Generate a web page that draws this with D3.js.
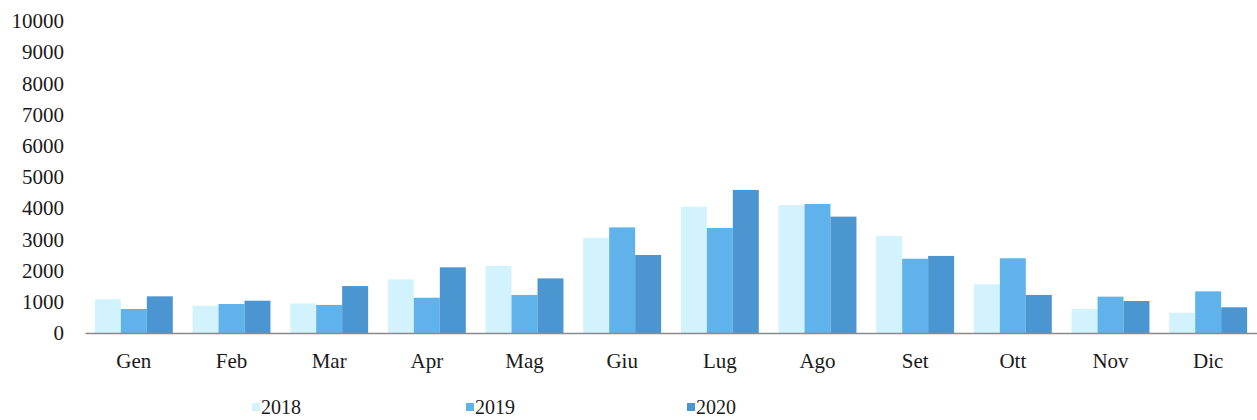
<!DOCTYPE html>
<html>
<head>
<meta charset="utf-8">
<script src="https://cdn.jsdelivr.net/npm/d3@7"></script>
<style>
  body { margin: 0; background: #fff; }
  svg { display: block; font-family: "Liberation Serif", "Times New Roman", serif; }
</style>
</head>
<body>
<div id="chart"></div>
<script>
const width = 1257;
const height = 420;

// data
const months = ["Gen", "Feb", "Mar", "Apr", "Mag", "Giu", "Lug", "Ago", "Set", "Ott", "Nov", "Dic"];
const years = ["2018", "2019", "2020"];
const values2018 = [1080, 875, 950, 1720, 2150, 3055, 4050, 4100, 3110, 1560, 770, 650];
const values2019 = [770, 930, 900, 1130, 1220, 3385, 3365, 4135, 2380, 2395, 1165, 1335];
const values2020 = [1175, 1035, 1505, 2105, 1750, 2500, 4585, 3730, 2470, 1220, 1025, 825];
const yTicks = [0, 1000, 2000, 3000, 4000, 5000, 6000, 7000, 8000, 9000, 10000];

const seriesValues = { "2018": values2018, "2019": values2019, "2020": values2020 };

const rows = months.map((m, i) => ({
    month: m,
    bars: years.map(y => ({ year: y, value: seriesValues[y][i] }))
}));

const colorScale = d3.scaleOrdinal().domain(years).range(["#d2f3fd", "#60b3ea", "#4b95d1"]);

const svg = d3.select("#chart").append("svg").attr("width", width).attr("height", height);

const xScale = d3.scaleBand()
    .domain(months)
    .range([85, 1257])
    .padding(0);

const xInner = d3.scaleBand()
    .domain(years)
    .range([0, xScale.bandwidth()])
    .paddingInner(0)
    .paddingOuter(0.38);

const yScale = d3.scaleLinear()
    .domain([0, 10000])
    .range([333, 21]);

// y labels (no axis line)
const yAxis = d3.axisLeft(yScale).tickValues(yTicks).tickSize(0).tickPadding(0).tickFormat(d => d);
svg.append("g")
    .attr("class", "y-axis")
    .attr("transform", "translate(64,0)")
    .call(yAxis)
    .call(g => g.select(".domain").remove())
    .selectAll("text")
    .attr("font-family", "Liberation Serif, serif")
    .attr("font-size", 21)
    .attr("fill", "#1a1a1a");

// bars
const groups = svg.selectAll("g.month")
    .data(rows)
    .join("g")
    .attr("class", "month")
    .attr("transform", d => `translate(${xScale(d.month)},0)`);

groups.selectAll("rect")
    .data(d => d.bars)
    .join("rect")
    .attr("x", d => xInner(d.year))
    .attr("width", xInner.bandwidth())
    .attr("y", d => yScale(d.value))
    .attr("height", d => yScale(0) - yScale(d.value))
    .attr("fill", d => colorScale(d.year));

// x axis
const xAxis = d3.axisBottom(xScale).tickSize(0).tickPadding(20);
svg.append("g")
    .attr("class", "x-axis")
    .attr("transform", `translate(0,${yScale(0)})`)
    .call(xAxis)
    .call(g => g.select(".domain").attr("stroke", "#8a8a8a").attr("stroke-width", 1.5))
    .selectAll("text")
    .attr("font-family", "Liberation Serif, serif")
    .attr("font-size", 21)
    .attr("fill", "#1a1a1a");

// legend
const legendX = [252, 466, 687];
const legend = svg.selectAll("g.legend")
    .data(years)
    .join("g")
    .attr("class", "legend")
    .attr("transform", (d, i) => `translate(${legendX[i]},407)`);

legend.append("rect")
    .attr("x", 0)
    .attr("y", -4)
    .attr("width", 8)
    .attr("height", 8)
    .attr("fill", d => colorScale(d));

legend.append("text")
    .attr("x", 9)
    .attr("y", 0)
    .attr("dy", "0.35em")
    .attr("font-size", 20)
    .attr("fill", "#1a1a1a")
    .text(d => d);
</script>
</body>
</html>
